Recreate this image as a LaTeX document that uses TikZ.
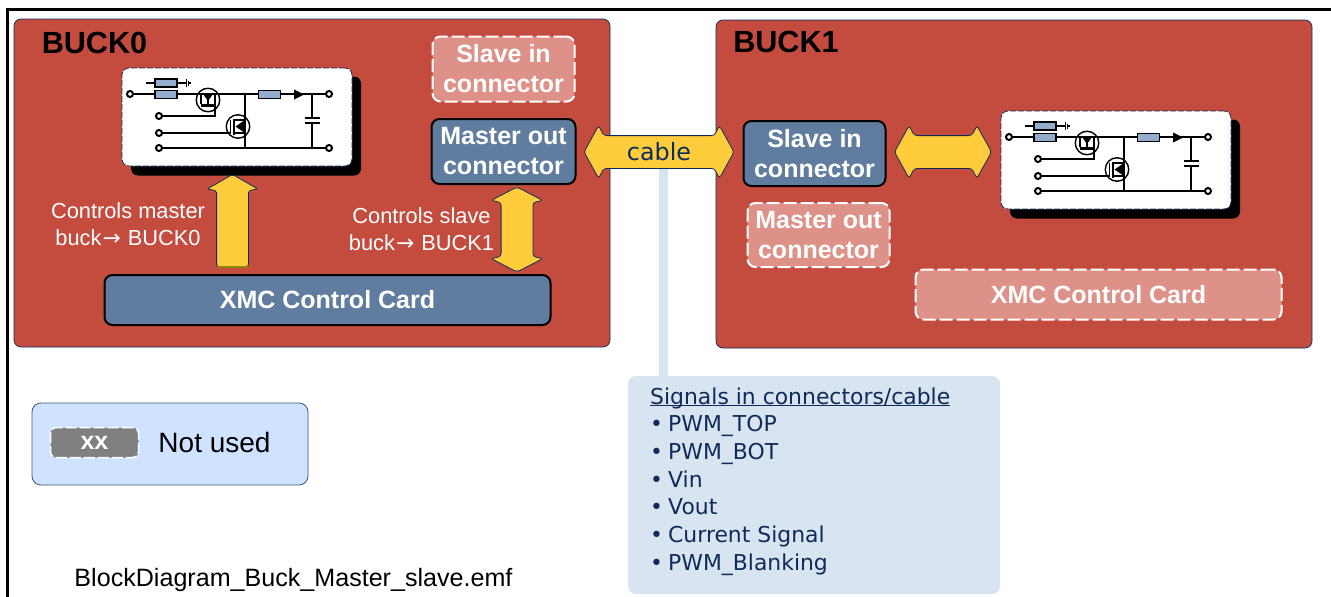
\documentclass[tikz,border=0pt]{standalone}
\usepackage{fontspec}
\setmainfont{Liberation Sans}
\newfontfamily\verdanafont{DejaVu Sans}
\usetikzlibrary{shapes.arrows}
\definecolor{panelred}{HTML}{C44C3F}
\definecolor{cardblue}{HTML}{607D9F}
\definecolor{fadedred}{HTML}{DE9189}
\definecolor{arrowyellow}{HTML}{FFCC3C}
\definecolor{navyline}{HTML}{0F2B5B}
\definecolor{signalblue}{HTML}{D8E4EF}
\definecolor{legendblue}{HTML}{CFE2FF}
\definecolor{resblue}{HTML}{94ADCF}
\tikzset{
	panel/.style={draw=navyline, line width=0.7pt, fill=panelred, rounded corners=7pt, minimum width=596pt, minimum height=328pt},
	used/.style={draw=black, line width=2pt, fill=cardblue, rounded corners=8pt, text=white, align=center, inner sep=0pt, font=\fontsize{25}{30}\selectfont\bfseries},
	unused/.style={draw=white, line width=2pt, dash pattern=on 13pt off 4pt, fill=fadedred, rounded corners=8pt, text=white, align=center, inner sep=0pt, font=\fontsize{25}{30}\selectfont\bfseries},
	title/.style={text=black, inner sep=0pt, font=\fontsize{30.6}{36}\selectfont\bfseries},
	note/.style={text=white, align=center, inner sep=0pt, font=\fontsize{21.8}{27}\selectfont},
	blockone/.style={shape=single arrow, draw=navyline, line width=0.8pt, fill=arrowyellow, inner xsep=0pt, inner ysep=15.5pt, rotate=90, single arrow tip angle=120, single arrow head extend=9.5pt, single arrow head indent=-1.5pt, rounded corners=2pt},
	blocktwo/.style={shape=double arrow, draw=navyline, line width=0.8pt, fill=arrowyellow, inner xsep=0pt, inner ysep=15.5pt, double arrow tip angle=122, double arrow head extend=10pt, double arrow head indent=-5pt, rounded corners=3pt},
	term/.style={draw=black, fill=white, circle, line width=2pt, minimum size=6pt, inner sep=0pt},
	res/.style={draw=black, fill=resblue, line width=1.2pt, minimum width=22pt, minimum height=8pt, inner sep=0pt},
	wire/.style={draw=black, line width=1.4pt},
	buckschem/.pic={
		\node (-shadow) at (124,58) [fill=black, rounded corners=7pt, minimum width=230pt, minimum height=99pt] {};
		\node (-card) at (115,49) [fill=white, draw=navyline, line width=0.8pt, dash pattern=on 6pt off 2pt, rounded corners=7pt, minimum width=230pt, minimum height=98pt] {};
		\node (-t1) at (8,26) [term] {};
		\node (-t2) at (37,48) [term] {};
		\node (-t3) at (37,65) [term] {};
		\node (-t4) at (37,80) [term] {};
		\node (-t5) at (207,26) [term] {};
		\node (-t6) at (207,80) [term] {};
		\coordinate (-j1) at (123,26);
		\coordinate (-j2) at (123,80);
		\coordinate (-j3) at (190,26);
		\coordinate (-j4) at (190,80);
		\coordinate (-gnd) at (64,15);
		\coordinate (-lead) at (24,15);
		\draw[wire] (-t1) -- (-t5);
		\draw[wire] (-t4) -- (-t6);
		\draw[wire] (-lead) -- (-gnd);
		\node (-r1) at (44,15) [res] {};
		\node (-r2) at (44,26.5) [res] {};
		\node (-r3) at (147.5,26.5) [res] {};
		\node (-q1) at (86,32) [draw=black, fill=white, circle, line width=1.4pt, minimum size=23.5pt, inner sep=0pt] {};
		\node (-q2) at (116,58.5) [draw=black, fill=white, circle, line width=1.4pt, minimum size=23.5pt, inner sep=0pt] {};
		\draw[wire] (-q1.north west |- -j1) -- (-q1.north east |- -j1);
		\draw[wire] (64.5,11) -- (64.5,19) (66.5,12.5) -- (66.5,17.5) (68,14) -- (68,16);
		\draw[wire] (-j1) -- (-j2);
		\draw[wire] (-j3) -- (190,50) (190,55) -- (-j4);
		\draw[line width=2pt] (183,50) -- (198,50) (183,55) -- (198,55);
		\fill[black] (172,21.5) -- (182,26.5) -- (172,31.5) -- cycle;
		\draw[wire] (-t2) -- (93,48) -- (93,38);
		\draw[wire] (-t3) -- (108.5,65);
		\draw[line width=1.3pt] (79,26) -- (79,36) (93,26) -- (93,36) (86,32) -- (86,36);
		\fill[black] (81,26) -- (91,26) -- (86,33) -- cycle;
		\draw[line width=2.4pt] (79,37.5) -- (93.5,37.5);
		\draw[line width=1.3pt] (108.5,65) -- (108.5,52);
		\draw[line width=2pt] (111.5,50.5) -- (111.5,66.5);
		\draw[line width=1.3pt] (111.5,52) -- (123,52) (111.5,65) -- (123,65);
		\fill[black] (113.5,58.5) -- (123,52) -- (123,65) -- cycle;
	}
}
\begin{document}
\begin{tikzpicture}[x=1pt,y=-1pt]
	\useasboundingbox (0,0) rectangle (1331,597);
	\node (corner) at (7.5,9.5) [inner sep=0pt] {};
	\coordinate (topend) at (1331,9.5);
	\coordinate (botend) at (7.5,597);
	\draw[line width=2.6pt, black] (botend) -- (corner.center) -- (topend);

	\node (stem) at (663.5,272) [fill=signalblue, minimum width=9pt, minimum height=210pt, inner sep=0pt] {};
	\node (signals) at (814,485) [fill=signalblue, rounded corners=8pt, minimum width=372pt, minimum height=218pt, inner sep=0pt] {};
	\node (signaltext) at (650,384.5) [anchor=north west, text=navyline, align=left, inner sep=0pt, font=\fontsize{21.9}{27.7}\verdanafont] {\strut\underline{\smash{Signals in connectors/cable}}\\\makebox[18pt][l]{•}PWM\_TOP\\\makebox[18pt][l]{•}PWM\_BOT\\\makebox[18pt][l]{•}Vin\\\makebox[18pt][l]{•}Vout\\\makebox[18pt][l]{•}Current Signal\\\makebox[18pt][l]{•}PWM\_Blanking};

	\node (buck0) at (312,183) [panel] {};
	\node (buck1) at (1014,184) [panel] {};
	\node (buck0title) at (94.5,43) [title] {BUCK0};
	\node (buck1title) at (786,42) [title] {BUCK1};

	\pic (schem0) at (122,68) {buckschem};
	\pic (schem1) at (1001,111) {buckschem};

	\node (slave0) at (503.5,69) [unused, minimum width=142pt, minimum height=65pt] {Slave in\\connector};
	\node (master0) at (503.5,151.5) [used, minimum width=144pt, minimum height=65pt] {Master out\\connector};
	\node (card0) at (327.5,300) [used, minimum width=446pt, minimum height=50pt] {XMC Control Card};
	\node (slave1) at (814.5,153.5) [used, minimum width=142pt, minimum height=65pt] {Slave in\\connector};
	\node (master1) at (818.5,235) [unused, minimum width=142pt, minimum height=64pt] {Master out\\connector};
	\node (card1) at (1098.5,294.5) [unused, minimum width=366pt, minimum height=50pt] {XMC Control Card};

	\node (ctrl0) at (128,224) [note] {Controls master\\buck\kern1pt{\verdanafont →}\kern1pt{} BUCK0};
	\node (ctrl1) at (421.5,229) [note] {Controls slave\\buck\kern1pt{\verdanafont →}\kern1pt{} BUCK1};

	\node (up0) at (232.5,225) [blockone, minimum height=92pt] {};
	\node (updown0) at (517,229.5) [blocktwo, rotate=90, minimum height=85pt, double arrow head indent=-2pt, double arrow tip angle=125] {};
	\node (cable) at (659,152) [blocktwo, minimum height=150pt, inner ysep=8pt, text height=16pt, text depth=0pt, text=navyline, font=\fontsize{23.8}{29}\verdanafont] {cable};
	\node (link1) at (943,152) [blocktwo, minimum height=97pt, inner ysep=16pt] {};
	\draw[draw=olive, line width=1.6pt] (217.5,267) -- (247.5,267);

	\node (legend) at (170,444) [fill=legendblue, draw=navyline!80, line width=0.8pt, rounded corners=9pt, minimum width=276pt, minimum height=82pt] {};
	\node (xx) at (94.5,442.5) [fill=black!50, draw=white, line width=1.5pt, dash pattern=on 11pt off 3pt, rounded corners=6pt, minimum width=88pt, minimum height=30pt, inner sep=0pt, text=white, font=\fontsize{25}{26}\selectfont\bfseries] {xx};
	\node (notused) at (214.5,442) [inner sep=0pt, font=\fontsize{28}{34}\selectfont] {Not used};
	\node (filename) at (293.5,580) [inner sep=0pt, font=\fontsize{25.1}{29}\selectfont] {BlockDiagram\_Buck\_Master\_slave.emf};
\end{tikzpicture}
\end{document}
